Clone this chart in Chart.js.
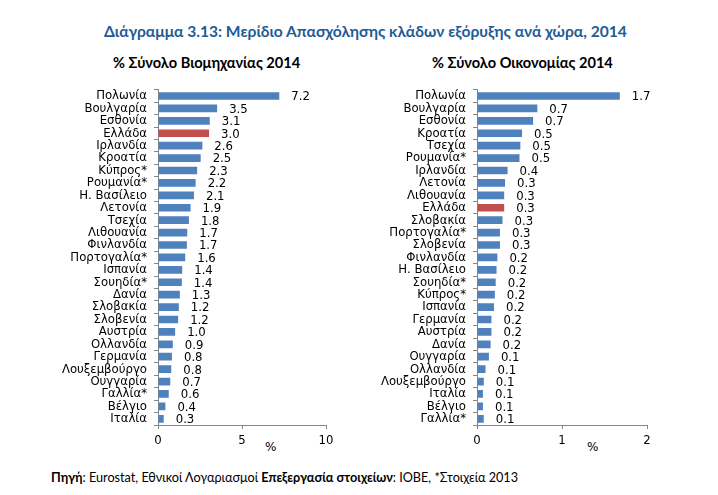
<!DOCTYPE html>
<html>
<head>
<meta charset="utf-8">
<script src="https://cdn.jsdelivr.net/npm/chart.js@4.4.0/dist/chart.umd.min.js"></script>
<style>
  body { margin: 0; background: #fff; width: 718px; height: 495px; position: relative; overflow: hidden; }
  .txt { position: absolute; white-space: nowrap; }
  #title { left: 104px; top: 22px; font: bold 15.6px Lato, sans-serif; color: #1f5b95; }
  .sub { top: 54px; font: bold 14.6px Lato, sans-serif; color: #000; }
  .pct { font: 12px "DejaVu Sans", sans-serif; color: #000; }
  #foot { left: 51px; top: 470px; font: 12.65px Lato, sans-serif; color: #000; }
  canvas { position: absolute; }
</style>
</head>
<body>
<div class="txt" id="title">Διάγραμμα 3.13: Μερίδιο Απασχόλησης κλάδων εξόρυξης ανά χώρα, 2014</div>
<div class="txt sub" style="left:113px">% Σύνολο Βιομηχανίας 2014</div>
<div class="txt sub" style="left:432px">% Σύνολο Οικονομίας 2014</div>
<div class="txt pct" style="left:265px; top:440px">%</div>
<div class="txt pct" style="left:587px; top:440px">%</div>
<div class="txt" id="foot"><b>Πηγή</b>: Eurostat, Εθνικοί Λογαριασμοί <b>Επεξεργασία στοιχείων</b>: ΙΟΒΕ, *Στοιχεία 2013</div>
<div style="position:absolute; left:0; top:75px; width:344px; height:380px"><canvas id="left"></canvas></div>
<div style="position:absolute; left:350px; top:75px; width:315px; height:380px"><canvas id="right"></canvas></div>
<script>
// % of total industry, 2014
const industryCountries = ["Πολωνία", "Βουλγαρία", "Εσθονία", "Ελλάδα", "Ιρλανδία", "Κροατία", "Κύπρος*", "Ρουμανία*", "Η. Βασίλειο", "Λετονία", "Τσεχία", "Λιθουανία", "Φινλανδία", "Πορτογαλία*", "Ισπανία", "Σουηδία*", "Δανία", "Σλοβακία", "Σλοβενία", "Αυστρία", "Ολλανδία", "Γερμανία", "Λουξεμβούργο", "Ουγγαρία", "Γαλλία*", "Βέλγιο", "Ιταλία"];
const industryValues = [7.22, 3.52, 3.08, 3.04, 2.64, 2.54, 2.33, 2.24, 2.14, 1.94, 1.84, 1.74, 1.72, 1.62, 1.44, 1.42, 1.3, 1.24, 1.2, 1.02, 0.88, 0.83, 0.79, 0.73, 0.64, 0.44, 0.34];
const industryTicks = [0, 5, 10];

// % of total economy, 2014
const economyCountries = ["Πολωνία", "Βουλγαρία", "Εσθονία", "Κροατία", "Τσεχία", "Ρουμανία*", "Ιρλανδία", "Λετονία", "Λιθουανία", "Ελλάδα", "Σλοβακία", "Πορτογαλία*", "Σλοβενία", "Φινλανδία", "Η. Βασίλειο", "Σουηδία*", "Κύπρος*", "Ισπανία", "Γερμανία", "Αυστρία", "Δανία", "Ουγγαρία", "Ολλανδία", "Λουξεμβούργο", "Ιταλία", "Βέλγιο", "Γαλλία*"];
const economyValues = [1.68, 0.71, 0.66, 0.53, 0.51, 0.5, 0.36, 0.33, 0.32, 0.32, 0.3, 0.27, 0.27, 0.24, 0.23, 0.22, 0.21, 0.2, 0.17, 0.17, 0.16, 0.14, 0.1, 0.08, 0.07, 0.07, 0.08];
const economyTicks = [0, 1, 2];

const blue = "#4f81bd";
const red = "#c0504d";
const axisGrey = "#868686";
const labelFont = "'DejaVu Sans Condensed', 'DejaVu Sans', sans-serif";

const valueLabels = {
  id: "valueLabels",
  afterDatasetsDraw(chart) {
    const ctx = chart.ctx;
    const meta = chart.getDatasetMeta(0);
    const data = chart.data.datasets[0].data;
    ctx.save();
    ctx.font = "13px " + labelFont;
    ctx.fillStyle = "#000";
    ctx.textAlign = "left";
    ctx.textBaseline = "middle";
    meta.data.forEach((bar, i) => {
      ctx.fillText(data[i].toFixed(1), bar.x + 12, bar.y + 1);
    });
    ctx.restore();
  }
};

function makeChart(id, labels, values, ticks, yWidth) {
  const colors = labels.map(l => (l === "Ελλάδα" ? red : blue));
  return new Chart(document.getElementById(id), {
    type: "bar",
    data: {
      labels: labels,
      datasets: [{
        data: values,
        backgroundColor: colors,
        barPercentage: 0.62,
        categoryPercentage: 1
      }]
    },
    options: {
      indexAxis: "y",
      responsive: true,
      maintainAspectRatio: false,
      animation: false,
      layout: { padding: { top: 6, right: 18, left: 0, bottom: 0 } },
      plugins: { legend: { display: false }, tooltip: { enabled: false } },
      scales: {
        x: {
          min: ticks[0],
          max: ticks[ticks.length - 1],
          afterBuildTicks: s => { s.ticks = ticks.map(v => ({ value: v })); },
          afterFit: s => { s.height = 30; },
          border: { color: axisGrey },
          grid: { drawOnChartArea: false, tickLength: 4, color: axisGrey },
          ticks: { color: "#000", padding: 4, font: { family: labelFont, size: 13 } }
        },
        y: {
          afterFit: s => { s.width = yWidth; },
          border: { color: axisGrey },
          grid: { drawOnChartArea: false, tickLength: 4, color: axisGrey },
          ticks: { color: "#000", padding: 7, autoSkip: false, font: { family: labelFont, size: 13 } }
        }
      }
    },
    plugins: [valueLabels]
  });
}

makeChart("left", industryCountries, industryValues, industryTicks, 158);
makeChart("right", economyCountries, economyValues, economyTicks, 127);
</script>
</body>
</html>
